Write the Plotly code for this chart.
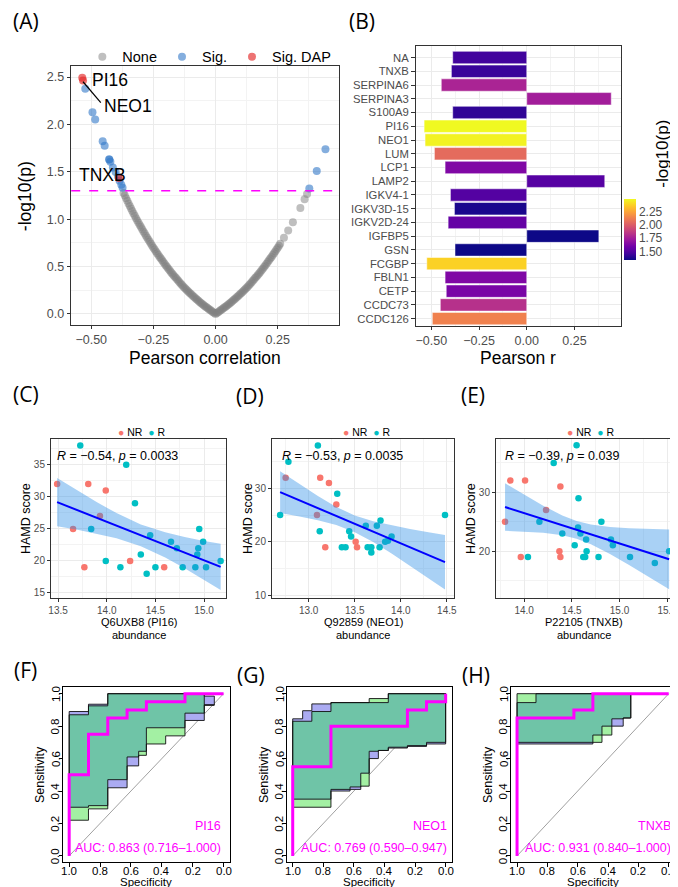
import plotly.graph_objects as go

W, H = 678, 887

# ---------------- (A) volcano: Pearson r vs -log10(p) ----------------
none_r = [-0.37, -0.36, -0.35, -0.34, -0.33, -0.32, -0.31, -0.30, -0.29, -0.28,
          -0.27, -0.26, -0.25, -0.24, -0.23, -0.22, -0.21, -0.20, -0.19, -0.18,
          -0.17, -0.16, -0.15, -0.14, -0.13, -0.12, -0.11, -0.10, -0.09, -0.08,
          -0.07, -0.06, -0.05, -0.04, -0.03, -0.02, -0.01, 0.0,
          0.01, 0.02, 0.03, 0.04, 0.05, 0.06, 0.07, 0.08, 0.09, 0.10,
          0.11, 0.12, 0.13, 0.14, 0.15, 0.16, 0.17, 0.18, 0.19, 0.20,
          0.21, 0.22, 0.23, 0.24, 0.25, 0.26, 0.275, 0.292, 0.311, 0.341, 0.358, 0.368]
none_logp = [1.277, 1.221, 1.167, 1.113, 1.061, 1.011, 0.963, 0.917, 0.871, 0.826,
             0.783, 0.741, 0.700, 0.660, 0.621, 0.584, 0.548, 0.512, 0.478, 0.444,
             0.412, 0.381, 0.350, 0.320, 0.291, 0.264, 0.238, 0.213, 0.188, 0.164,
             0.141, 0.119, 0.097, 0.077, 0.057, 0.038, 0.019, 0.0,
             0.019, 0.038, 0.057, 0.077, 0.097, 0.119, 0.141, 0.164, 0.188, 0.213,
             0.238, 0.264, 0.291, 0.320, 0.350, 0.381, 0.412, 0.444, 0.478, 0.512,
             0.548, 0.584, 0.621, 0.660, 0.700, 0.741, 0.804, 0.880, 0.968, 1.118, 1.210, 1.266]
# more proteins packed along the same band
none_r_b = [-0.365, -0.355, -0.345, -0.335, -0.325, -0.315, -0.305, -0.295, -0.285, -0.275,
            -0.265, -0.255, -0.245, -0.235, -0.225, -0.215, -0.205, -0.195, -0.185, -0.175,
            -0.165, -0.155, -0.145, -0.135, -0.125, -0.115, -0.105, -0.095, -0.085, -0.075,
            -0.065, -0.055, -0.045, -0.035, -0.025, -0.015, -0.005,
            0.005, 0.015, 0.025, 0.035, 0.045, 0.055, 0.065, 0.075, 0.085, 0.095,
            0.105, 0.115, 0.125, 0.135, 0.145, 0.155, 0.165, 0.175, 0.185, 0.195,
            0.205, 0.215, 0.225, 0.235, 0.245, 0.255]
none_logp_b = [1.249, 1.194, 1.140, 1.087, 1.036, 0.987, 0.940, 0.894, 0.848, 0.804,
               0.762, 0.720, 0.680, 0.640, 0.602, 0.566, 0.530, 0.495, 0.461, 0.428,
               0.396, 0.365, 0.335, 0.305, 0.277, 0.251, 0.225, 0.200, 0.176, 0.152,
               0.130, 0.108, 0.087, 0.067, 0.047, 0.028, 0.010,
               0.010, 0.028, 0.047, 0.067, 0.087, 0.108, 0.130, 0.152, 0.176, 0.200,
               0.225, 0.251, 0.277, 0.305, 0.335, 0.365, 0.396, 0.428, 0.461, 0.495,
               0.530, 0.566, 0.602, 0.640, 0.680, 0.720]
sig_r = [-0.524, -0.495, -0.484, -0.454, -0.446, -0.428, -0.427, -0.423, -0.413,
         -0.402, -0.392, -0.386, -0.379, -0.374, 0.377, 0.407, 0.442]
sig_logp = [2.377, 2.128, 2.051, 1.823, 1.774, 1.634, 1.628, 1.606, 1.546,
            1.497, 1.450, 1.406, 1.364, 1.332, 1.325, 1.508, 1.739]
dap_r = [-0.536, -0.533, -0.389]
dap_logp = [2.493, 2.465, 1.434]
dap_genes = ["PI16", "NEO1", "TNXB"]
p_cut = 1.3

# ---------------- (B) significant proteins ----------------
genes_b = ["NA", "TNXB", "SERPINA6", "SERPINA3", "S100A9", "PI16", "NEO1", "LUM",
           "LCP1", "LAMP2", "IGKV4-1", "IGKV3D-15", "IGKV2D-24", "IGFBP5", "GSN",
           "FCGBP", "FBLN1", "CETP", "CCDC73", "CCDC126"]
r_b = [-0.388, -0.395, -0.448, 0.443, -0.388, -0.538, -0.533, -0.484, -0.428, 0.409,
       -0.400, -0.379, -0.412, 0.378, -0.376, -0.524, -0.428, -0.422, -0.453, -0.495]
logp_b = [1.45, 1.43, 1.77, 1.74, 1.41, 2.49, 2.47, 2.05, 1.63, 1.51,
          1.50, 1.36, 1.55, 1.33, 1.33, 2.38, 1.63, 1.61, 1.82, 2.13]

# ---------------- (C) PI16 vs HAMD ----------------
c_nr_x = [13.49, 13.81, 13.99, 13.93, 13.654, 14.24, 13.77, 14.59]
c_nr_y = [32, 32, 31, 27, 25, 20, 19, 19]
c_r_x = [13.728, 14.20, 14.29, 13.84, 14.446, 14.66, 14.72, 14.94, 14.95, 14.99,
         14.93, 14.35, 13.99, 15.17, 14.14, 14.50, 14.78, 14.91, 15.02, 14.41]
c_r_y = [38, 35, 29, 25, 24, 23, 22, 22, 25, 23, 21, 21, 20, 20, 19, 19, 19, 19, 19, 18]
c_fit_x = [13.49, 13.7, 13.9, 14.1, 14.35, 14.6, 14.8, 15.0, 15.17]
c_fit_y = [29.18, 27.92, 26.71, 25.51, 24.0, 22.5, 21.29, 20.09, 19.07]
c_hi = [32.94, 30.96, 29.15, 27.47, 25.7, 24.46, 23.73, 23.13, 22.67]
c_lo = [25.42, 24.88, 24.27, 23.55, 22.3, 20.54, 18.85, 17.05, 15.47]

# ---------------- (D) NEO1 vs HAMD ----------------
d_nr_x = [12.75, 13.125, 13.22, 13.30, 13.09, 13.51, 13.525, 13.18]
d_nr_y = [32, 32, 31, 27, 25, 20, 19, 19]
d_r_x = [13.10, 12.78, 13.31, 12.69, 14.48, 13.78, 13.74, 13.62, 13.44, 13.12,
         13.46, 13.90, 13.83, 13.86, 13.36, 13.40, 13.64, 13.68, 13.68, 13.77]
d_r_y = [38, 35, 29, 25, 25, 24, 23, 23, 22, 22, 21, 21, 20, 20.2, 19, 19, 19, 19, 18, 19]
d_fit_x = [12.69, 12.9, 13.1, 13.3, 13.5, 13.7, 13.9, 14.1, 14.3, 14.48]
d_fit_y = [29.3, 27.76, 26.3, 24.83, 23.37, 21.91, 20.44, 18.98, 17.51, 16.2]
d_hi = [33.2, 30.77, 28.56, 26.53, 24.94, 23.85, 23.06, 22.4, 21.79, 21.3]
d_lo = [25.4, 24.75, 24.04, 23.13, 21.8, 19.97, 17.82, 15.56, 13.23, 11.1]

# ---------------- (E) TNXB vs HAMD ----------------
e_nr_x = [13.855, 14.01, 14.38, 14.23, 13.80, 14.37, 13.965, 14.38]
e_nr_y = [32, 32, 31, 27, 25, 20, 19, 19]
e_r_x = [14.55, 14.31, 14.57, 14.16, 14.81, 14.565, 14.40, 14.59, 14.65, 14.91,
         14.53, 14.93, 14.655, 15.52, 14.04, 14.62, 14.64, 14.78, 15.11, 15.37]
e_r_y = [38, 35, 29, 25, 25, 24, 23, 23, 22, 22, 21, 21, 20, 20, 19, 19, 19, 19, 19, 18]
e_fit_x = [13.80, 14.0, 14.2, 14.4, 14.55, 14.7, 14.9, 15.1, 15.3, 15.52]
e_fit_y = [27.5, 26.47, 25.43, 24.4, 23.62, 22.85, 21.81, 20.78, 19.75, 18.61]
e_hi = [31.54, 29.6, 27.73, 26.08, 25.12, 24.53, 24.11, 23.91, 23.79, 23.69]
e_lo = [23.46, 23.34, 23.13, 22.72, 22.12, 21.17, 19.51, 17.65, 15.71, 13.53]

# ---------------- (F)-(H) ROC curves and CI shapes ----------------
roc_f_spec = [1.0, 0.875, 0.75, 0.625, 0.5, 0.25, 0.0]
roc_f_sens = [0.0, 0.5, 0.75, 0.85, 0.9, 0.95, 1.0]
ci_f_grid = [1.0, 0.875, 0.75, 0.625, 0.55, 0.5, 0.375, 0.25, 0.125, 0.06]
ci_f_pu = [0.89, 0.935, 1.0, 1.0, 1.0, 1.0, 1.0, 1.0, 0.985]
ci_f_pl = [0.30, 0.31, 0.42, 0.555, 0.645, 0.79, 0.79, 0.835, 0.93]
ci_f_gu = [0.87, 0.925, 1.0, 1.0, 1.0, 1.0, 1.0, 1.0, 0.93]
ci_f_gl = [0.22, 0.29, 0.47, 0.61, 0.62, 0.69, 0.74, 0.88, 0.93]

roc_g_spec = [1.0, 0.75, 0.25, 0.125, 0.0, 0.0]
roc_g_sens = [0.0, 0.55, 0.8, 0.9, 0.95, 1.0]
ci_g_grid = [1.0, 0.935, 0.875, 0.75, 0.625, 0.555, 0.5, 0.44, 0.375, 0.25, 0.125, 0.0]
ci_g_pu = [0.845, 0.895, 0.937, 0.945, 0.945, 0.945, 0.945, 0.945, 1.0, 1.0, 1.0]
ci_g_pl = [0.35, 0.35, 0.35, 0.40, 0.41, 0.51, 0.60, 0.65, 0.665, 0.675, 0.69]
ci_g_gu = [0.83, 0.83, 0.89, 0.945, 0.945, 0.945, 0.97, 0.97, 1.0, 1.0, 1.0]
ci_g_gl = [0.30, 0.30, 0.30, 0.41, 0.425, 0.43, 0.645, 0.65, 0.67, 0.68, 0.70]

roc_h_spec = [1.0, 0.625, 0.5, 0.0]
roc_h_sens = [0.0, 0.85, 0.9, 1.0]
ci_h_grid = [1.0, 0.875, 0.5, 0.44, 0.375, 0.3, 0.25]
ci_h_pu = [0.945, 1.0, 1.0, 1.0, 1.0, 1.0]
ci_h_pl = [0.69, 0.69, 0.745, 0.80, 0.80, 0.85]
ci_h_gu = [1.0, 1.0, 1.0, 1.0, 1.0, 1.0]
ci_h_gl = [0.70, 0.70, 0.70, 0.745, 0.845, 0.85]

roc_ticks = [0.0, 0.2, 0.4, 0.6, 0.8, 1.0]
roc_labels = ["PI16", "NEO1", "TNXB"]
auc_labels = ["AUC: 0.863 (0.716\u20131.000)", "AUC: 0.769 (0.590\u20130.947)",
              "AUC: 0.931 (0.840\u20131.000)"]
cor_labels = ["<i>R</i> = \u22120.54, <i>p</i> = 0.0033", "<i>R</i> = \u22120.53, <i>p</i> = 0.0035",
              "<i>R</i> = \u22120.39, <i>p</i> = 0.039"]
x_titles = ["Q6UXB8 (PI16)", "Q92859 (NEO1)", "P22105 (TNXB)"]

NR_COL, R_COL = "#F8766D", "#00BFC4"
FONT = "Liberation Sans, Arial, sans-serif"


def px(x, y):
    return x / W, 1 - y / H


def dom_x(a, b):
    return [a / W, b / W]


def dom_y(top, bottom):
    return [1 - bottom / H, 1 - top / H]


def step_path(grid, vals):
    xs, ys = [], []
    for i, v in enumerate(vals):
        xs += [grid[i], grid[i + 1]]
        ys += [v, v]
    return xs, ys


def band(grid, upper, lower):
    ux, uy = step_path(grid, upper)
    lx, ly = step_path(grid, lower)
    return ux + lx[::-1] + [ux[0]], uy + ly[::-1] + [uy[0]]


fig = go.Figure()

# (A)
fig.add_trace(go.Scatter(x=none_r + none_r_b, y=none_logp + none_logp_b, mode="markers", name="None",
                         marker=dict(size=8, color="rgba(128,128,128,0.5)"),
                         xaxis="x", yaxis="y"))
fig.add_trace(go.Scatter(x=sig_r, y=sig_logp, mode="markers", name="Sig.",
                         marker=dict(size=8, color="rgba(50,120,200,0.6)"),
                         xaxis="x", yaxis="y"))
fig.add_trace(go.Scatter(x=dap_r, y=dap_logp, mode="markers", name="Sig. DAP",
                         marker=dict(size=8, color="rgba(228,40,40,0.65)"),
                         xaxis="x", yaxis="y"))

# (B)
fig.add_trace(go.Bar(x=r_b, y=genes_b, orientation="h", width=0.9,
                     marker=dict(color=logp_b, colorscale="Plasma",
                                 cmin=min(logp_b), cmax=max(logp_b),
                                 line=dict(color="white", width=0.5),
                                 colorbar=dict(x=621 / W, xanchor="left", y=1 - 222.5 / H,
                                               yanchor="middle", len=61, lenmode="pixels",
                                               thickness=12, xpad=0, ypad=0, outlinewidth=0,
                                               tickvals=[1.5, 1.75, 2.0, 2.25],
                                               tickformat=".2f", ticks="",
                                               tickfont=dict(size=12, color="#4D4D4D", family=FONT))),
                     showlegend=False, xaxis="x2", yaxis="y2"))

# (C)-(E)
scatter_sets = [
    (c_nr_x, c_nr_y, c_r_x, c_r_y, c_fit_x, c_fit_y, c_hi, c_lo),
    (d_nr_x, d_nr_y, d_r_x, d_r_y, d_fit_x, d_fit_y, d_hi, d_lo),
    (e_nr_x, e_nr_y, e_r_x, e_r_y, e_fit_x, e_fit_y, e_hi, e_lo),
]
for k, (nx, ny, rx, ry, fx, fy, hi, lo) in enumerate(scatter_sets):
    xa, ya = "x%d" % (k + 3), "y%d" % (k + 3)
    fig.add_trace(go.Scatter(x=nx, y=ny, mode="markers", marker=dict(size=6.5, color=NR_COL),
                             showlegend=False, xaxis=xa, yaxis=ya))
    fig.add_trace(go.Scatter(x=rx, y=ry, mode="markers", marker=dict(size=6.5, color=R_COL),
                             showlegend=False, xaxis=xa, yaxis=ya))
    fig.add_trace(go.Scatter(x=fx + fx[::-1], y=hi + lo[::-1], mode="lines", fill="toself",
                             fillcolor="rgba(40,140,230,0.4)", line=dict(width=0),
                             showlegend=False, xaxis=xa, yaxis=ya))
    fig.add_trace(go.Scatter(x=fx, y=fy, mode="lines", line=dict(color="#0000FF", width=2),
                             showlegend=False, xaxis=xa, yaxis=ya))

# (F)-(H)
roc_sets = [
    (roc_f_spec, roc_f_sens, ci_f_grid, ci_f_pu, ci_f_pl, ci_f_gu, ci_f_gl),
    (roc_g_spec, roc_g_sens, ci_g_grid, ci_g_pu, ci_g_pl, ci_g_gu, ci_g_gl),
    (roc_h_spec, roc_h_sens, ci_h_grid, ci_h_pu, ci_h_pl, ci_h_gu, ci_h_gl),
]
for k, (sp, se, grid, pu, pl, gu, gl) in enumerate(roc_sets):
    xa, ya = "x%d" % (k + 6), "y%d" % (k + 6)
    fig.add_trace(go.Scatter(x=[1, 0], y=[0, 1], mode="lines", line=dict(color="#A0A0A0", width=1),
                             showlegend=False, xaxis=xa, yaxis=ya))
    gx, gy = band(grid, gu, gl)
    bx, by = band(grid, pu, pl)
    tu = [min(a, b) for a, b in zip(gu, pu)]
    tl = [min(max(a, b), u) for a, b, u in zip(gl, pl, tu)]
    tx, ty = band(grid, tu, tl)
    fig.add_trace(go.Scatter(x=gx, y=gy, mode="lines", fill="toself", fillcolor="#A3F0A3",
                             line=dict(width=0), showlegend=False, xaxis=xa, yaxis=ya))
    fig.add_trace(go.Scatter(x=bx, y=by, mode="lines", fill="toself", fillcolor="#ABABF2",
                             line=dict(width=0), showlegend=False, xaxis=xa, yaxis=ya))
    fig.add_trace(go.Scatter(x=tx, y=ty, mode="lines", fill="toself", fillcolor="#6FC4A7",
                             line=dict(width=0), showlegend=False, xaxis=xa, yaxis=ya))
    for ox, oy in [(gx, gy), (bx, by)]:
        fig.add_trace(go.Scatter(x=ox, y=oy, mode="lines", line=dict(color="#111111", width=0.9),
                                 showlegend=False, xaxis=xa, yaxis=ya))
    fig.add_trace(go.Scatter(x=sp, y=se, mode="lines", line=dict(color="#FF00FF", width=3, shape="vh"),
                             showlegend=False, xaxis=xa, yaxis=ya))

# ---------------- axes ----------------


def gg_axis(dom, rng, tickvals, fmt, minor_vals, anchor, size=10):
    return dict(domain=dom, range=rng, tickvals=tickvals, tickformat=fmt, anchor=anchor,
                showline=True, mirror=True, linecolor="#333333", linewidth=1,
                ticks="outside", ticklen=3.5, tickcolor="#333333", tickwidth=1,
                showgrid=True, gridcolor="#EBEBEB", gridwidth=1, zeroline=False,
                minor=dict(tickvals=minor_vals, showgrid=True, gridcolor="#F3F3F3", gridwidth=0.7),
                tickfont=dict(size=size, color="#4D4D4D", family=FONT))


def roc_axis(dom, rng, anchor):
    return dict(domain=dom, range=rng, anchor=anchor, tickvals=roc_ticks,
                showticklabels=False, showline=True, mirror=True,
                linecolor="black", linewidth=1, ticks="outside", ticklen=3.5, tickcolor="black",
                showgrid=False, zeroline=False)


layout = dict(
    width=W, height=H, margin=dict(l=0, r=0, t=0, b=0),
    paper_bgcolor="white", plot_bgcolor="white",
    font=dict(family=FONT, color="black"),
    showlegend=True,
    legend=dict(orientation="h", x=201 / W, xanchor="center", y=1 - 49 / H, yanchor="middle",
                font=dict(size=14.5, color="black", family=FONT), bgcolor="rgba(0,0,0,0)",
                itemclick=False),
    bargap=0.1,
)
layout["xaxis"] = gg_axis(dom_x(61, 332), [-0.5806, 0.4948], [-0.5, -0.25, 0, 0.25], ".2f",
                          [-0.375, -0.125, 0.125, 0.375], "y", size=12.5)
layout["yaxis"] = gg_axis(dom_y(58, 318), [-0.1157, 2.619], [0, 0.5, 1.0, 1.5, 2.0, 2.5], ".1f",
                          [0.25, 0.75, 1.25, 1.75, 2.25], "x", size=12.5)
layout["xaxis2"] = gg_axis(dom_x(410, 618), [-0.5828, 0.493], [-0.5, -0.25, 0, 0.25], ".2f",
                           [-0.375, -0.125, 0.125, 0.375], "y2", size=12.5)
layout["yaxis2"] = dict(domain=dom_y(38, 319), anchor="x2", type="category",
                        categoryorder="array", categoryarray=genes_b, range=[19.53, -0.85],
                        tickmode="array", tickvals=genes_b, ticktext=genes_b,
                        showline=True, mirror=True, linecolor="#333333", linewidth=1,
                        ticks="outside", ticklen=3.5, tickcolor="#333333",
                        showgrid=True, gridcolor="#EBEBEB", zeroline=False,
                        tickfont=dict(size=11.3, color="#4D4D4D", family=FONT))
layout["xaxis3"] = gg_axis(dom_x(41, 218), [13.432, 15.226], [13.5, 14.0, 14.5, 15.0], ".1f",
                           [13.75, 14.25, 14.75], "y3")
layout["yaxis3"] = gg_axis(dom_y(432, 592), [14.22, 39.1], [15, 20, 25, 30, 35], "d",
                           [17.5, 22.5, 27.5, 32.5, 37.5], "x3")
layout["xaxis4"] = gg_axis(dom_x(265, 449), [12.607, 14.578], [13.0, 13.5, 14.0, 14.5], ".1f",
                           [12.75, 13.25, 13.75, 14.25], "y4")
layout["yaxis4"] = gg_axis(dom_y(432, 592), [9.5, 39.32], [10, 20, 30], "d",
                           [15, 25, 35], "x4")
layout["xaxis5"] = gg_axis(dom_x(492, 669), [13.71, 15.541], [14.0, 14.5, 15.0, 15.5], ".1f",
                           [13.75, 14.25, 14.75, 15.25], "y5")
layout["yaxis5"] = gg_axis(dom_y(432, 592), [12.03, 39.15], [20, 30], "d",
                           [15, 25, 35], "x5")
roc_dx = [(52.7, 221.7), (279.3, 446.7), (506.7, 672.7)]
for k, (a, b) in enumerate(roc_dx):
    layout["xaxis%d" % (k + 6)] = roc_axis(dom_x(a, b), [1.04, -0.04], "y%d" % (k + 6))
    layout["yaxis%d" % (k + 6)] = roc_axis(dom_y(681.5, 857.3), [-0.04, 1.04], "x%d" % (k + 6))

# ---------------- text ----------------
ann = []


def text(s, x, y, size, xanchor="center", color="black", angle=0, family=FONT):
    xp, yp = px(x, y)
    ann.append(dict(text=s, x=xp, y=yp, xref="paper", yref="paper", xanchor=xanchor,
                    yanchor="middle", showarrow=False, textangle=angle, borderpad=0,
                    font=dict(size=size, color=color, family=family)))


for s, x, y in [("(A)", 15, 13), ("(B)", 356, 13), ("(C)", 15, 387), ("(D)", 242, 389),
                ("(E)", 468, 388), ("(F)", 15, 664), ("(G)", 243, 669), ("(H)", 471, 669)]:
    text(s, x, y, 21, family="Open Sans, DejaVu Sans, sans-serif")

text("Pearson correlation", 196.5, 351, 17.5)
text("-log10(p)", 15, 189, 17.5, angle=-90)
text("Pearson r", 514, 351, 17.5)
text("-log10(p)", 660, 146, 17, angle=-90)
for g, x, y in zip(dap_genes, [81, 93, 68], [72, 98, 168]):
    text(g, x, y, 17.5, xanchor="left")

legend_html = ("<span style='color:%s'>\u25CF</span> NR&nbsp;&nbsp;"
               "<span style='color:%s'>\u25CF</span> R") % (NR_COL, R_COL)
for k, (lx, cx, ylx, xc) in enumerate([(45.7, 132.5, 15, 129.5), (273.3, 360.5, 240, 357),
                                       (500, 587.5, 466, 580.5)]):
    text(legend_html, cx, 425, 10.5)
    text(cor_labels[k], lx, 449.3, 12.5, xanchor="left")
    text("HAMD score", ylx, 512, 12.5, angle=-90)
    text(x_titles[k], xc, 616.5, 11)
    text("abundance", xc, 629, 11)

# ROC tick labels, axis titles and AUC text
for k, (right, ylab, xlab, tlab) in enumerate([(213.5, 30, 136.7, 45), (442.5, 257, 363, 272),
                                               (669.5, 484, 590, 499)]):
    xa, ya = "x%d" % (k + 6), "y%d" % (k + 6)
    for t in roc_ticks:
        ann.append(dict(text="%.1f" % t, x=t, y=1 - 865.5 / H, xref=xa, yref="paper",
                        xanchor="center", yanchor="middle", showarrow=False, borderpad=0,
                        font=dict(size=11.5, color="black", family=FONT)))
        ann.append(dict(text="%.1f" % t, x=tlab / W, y=t, xref="paper", yref=ya,
                        xanchor="center", yanchor="middle", showarrow=False, textangle=-90,
                        borderpad=0, font=dict(size=11.5, color="black", family=FONT)))
    text(roc_labels[k], right, 820.7, 12.5, xanchor="right", color="#FF00FF")
    text(auc_labels[k], right, 843.3, 12.5, xanchor="right", color="#FF00FF")
    text("Sensitivity", ylab, 769, 12.5, angle=-90)
    text("Specificity", xlab, 877, 11.5)

layout["annotations"] = ann

x0, y0 = px(73, 74)
x1, y1 = px(91, 95)
layout["shapes"] = [
    dict(type="line", xref="x domain", yref="y", x0=0, x1=1, y0=p_cut, y1=p_cut,
         line=dict(color="#FF00FF", width=1.5, dash="dash")),
    dict(type="line", xref="paper", yref="paper", x0=x0, y0=y0, x1=x1, y1=y1,
         line=dict(color="black", width=1.2)),
]

fig.update_layout(**layout)
fig.write_html("out.html")
